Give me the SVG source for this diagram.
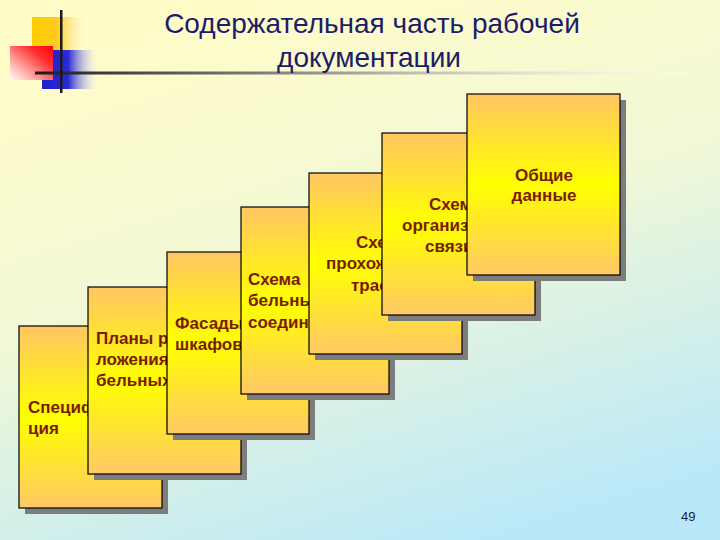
<svg xmlns="http://www.w3.org/2000/svg" width="720" height="540" viewBox="0 0 720 540">
<defs>
<linearGradient id="bg" x1="0.3" y1="0" x2="0.7" y2="1">
<stop offset="0" stop-color="#fffcc8"/>
<stop offset="0.45" stop-color="#f2f8d6"/>
<stop offset="1" stop-color="#b9e8f9"/>
</linearGradient>
<linearGradient id="card" x1="0" y1="0" x2="0" y2="1">
<stop offset="0" stop-color="#ffc663"/>
<stop offset="0.5" stop-color="#ffff00"/>
<stop offset="1" stop-color="#ffc866"/>
</linearGradient>
<linearGradient id="yel" x1="0" y1="0" x2="1" y2="0">
<stop offset="0" stop-color="#ffcc00"/>
<stop offset="0.45" stop-color="#ffcc22"/>
<stop offset="1" stop-color="#ffffff" stop-opacity="0"/>
</linearGradient>
<linearGradient id="red" x1="1" y1="0" x2="0" y2="1">
<stop offset="0" stop-color="#ff0000"/>
<stop offset="0.3" stop-color="#ff3030"/>
<stop offset="1" stop-color="#ffffff" stop-opacity="0.9"/>
</linearGradient>
<linearGradient id="blue" x1="0" y1="0" x2="1" y2="0">
<stop offset="0" stop-color="#2020cc"/>
<stop offset="0.45" stop-color="#2a2ad4"/>
<stop offset="1" stop-color="#ffffff" stop-opacity="0"/>
</linearGradient>
<linearGradient id="hline" x1="0" y1="0" x2="1" y2="0">
<stop offset="0" stop-color="#1a1a1a"/>
<stop offset="0.12" stop-color="#404040"/>
<stop offset="0.5" stop-color="#a8a8a8"/>
<stop offset="1" stop-color="#ffffff" stop-opacity="0.3"/>
</linearGradient>
</defs>
<style>
.card{fill:url(#card);stroke:#000;stroke-width:1.2}
.shadow{fill:#7d7d7d}
.ct{font-family:"Liberation Sans",Arial,sans-serif;font-weight:bold;font-size:17px;fill:#7a1c00}
.title{font-family:"Liberation Sans",Arial,sans-serif;font-size:28px;fill:#1c1c6a;text-anchor:middle}
</style>
<rect width="720" height="540" fill="url(#bg)"/>

<g id="decoration">
<rect x="32" y="17" width="58" height="33" fill="url(#yel)"/>
<rect x="42" y="50" width="58" height="39" fill="url(#blue)"/>
<rect x="10" y="46" width="43" height="34" fill="url(#red)"/>
<rect x="35" y="71.5" width="655" height="3" fill="url(#hline)"/>
<rect x="60" y="10" width="2.5" height="83" fill="#1a1a1a"/>
</g>

<g id="title">
<text class="title" x="372" y="33">Содержательная часть рабочей</text>
<text class="title" x="369" y="67">документации</text>
</g>

<g id="card1">
<rect class="shadow" x="25" y="332" width="143" height="182"/>
<rect class="card" x="19" y="326" width="143" height="182"/>
<text class="ct" x="28" y="413">Специф</text>
<text class="ct" x="28" y="434">ция</text>
</g>
<g id="card2">
<rect class="shadow" x="94" y="293" width="153" height="187"/>
<rect class="card" x="88" y="287" width="153" height="187"/>
<text class="ct" x="96" y="344">Планы р</text>
<text class="ct" x="96" y="365">ложения</text>
<text class="ct" x="96" y="386">бельных</text>
</g>
<g id="card3">
<rect class="shadow" x="173" y="258" width="142" height="182"/>
<rect class="card" x="167" y="252" width="142" height="182"/>
<text class="ct" x="175" y="329">Фасады</text>
<text class="ct" x="175" y="350">шкафов</text>
</g>
<g id="card4">
<rect class="shadow" x="247" y="213" width="148" height="187"/>
<rect class="card" x="241" y="207" width="148" height="187"/>
<text class="ct" x="248" y="285">Схема</text>
<text class="ct" x="248" y="306">бельны</text>
<text class="ct" x="248" y="328">соедин</text>
</g>
<g id="card5">
<rect class="shadow" x="315" y="179" width="153" height="181"/>
<rect class="card" x="309" y="173" width="153" height="181"/>
<text class="ct" x="356" y="248">Схем</text>
<text class="ct" x="326" y="269">прохож</text>
<text class="ct" x="351" y="291">трасс</text>
</g>
<g id="card6">
<rect class="shadow" x="388" y="139" width="153" height="182"/>
<rect class="card" x="382" y="133" width="153" height="182"/>
<text class="ct" x="429" y="210">Схема</text>
<text class="ct" x="402" y="231">организ</text>
<text class="ct" x="425" y="252">связи</text>
</g>
<g id="card7">
<rect class="shadow" x="473" y="100" width="153" height="181"/>
<rect class="card" x="467" y="94" width="153" height="181"/>
<text class="ct" x="544" y="181" text-anchor="middle">Общие</text>
<text class="ct" x="544" y="201" text-anchor="middle">данные</text>
</g>

<g id="connectors"/>

<text x="681" y="521" font-family="Liberation Sans, Arial, sans-serif" font-size="13" fill="#1a1a3a">49</text>
</svg>
